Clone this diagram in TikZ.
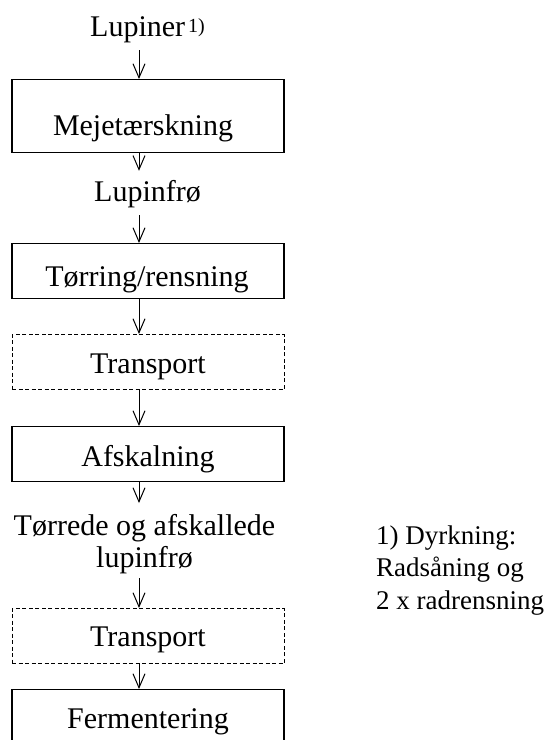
\documentclass[tikz,border=0pt]{standalone}
\usepackage{fontspec}
\setmainfont{Liberation Serif}
\usetikzlibrary{arrows.meta}
\begin{document}
\begin{tikzpicture}[x=1pt,y=-1pt,
  every node/.style={inner sep=0pt, font=\fontsize{30}{32}\selectfont},
  box/.style={draw, line width=1.1pt, minimum width=272pt, minimum height=55pt, anchor=north, text depth=0pt},
  dbox/.style={box, line width=1pt, dash pattern=on 4pt off 2.5pt},
  arr/.style={line width=1pt, -{Straight Barb[length=14pt,width=12pt]}}]
\useasboundingbox (0,0) rectangle (547,740);
\clip (0,0) rectangle (547,740);
\coordinate (ax) at (139,0);
% text labels
\node[anchor=base, text depth=14pt] (lup) at (147.5,36) {Lupiner\hspace{3pt}\raisebox{4pt}{\fontsize{20}{22}\selectfont 1)}};
\node[anchor=base, text height=30pt, text depth=14pt] (lf) at (147.5,201) {Lupinfrø};
\node[anchor=north, align=center] (tdl) at (144.5,503) {\rule{0pt}{32pt}Tørrede og afskallede\\lupinfrø\rule[-11pt]{0pt}{11pt}};
% boxes
\node[box, minimum height=73pt, text height=39pt] (mej) at (148,79) {Mejetærskning\hspace*{10pt}};
\node[box, text height=30pt] (tor) at (148,243) {Tørring/rensning\hspace*{2pt}};
\node[dbox, text height=22.4pt] (tr1) at (148,334) {Transport};
\node[box, text height=24.4pt] (afs) at (148,426) {Afskalning};
\node[dbox, text height=20.4pt] (tr2) at (148,608) {Transport};
\node[box, text height=23pt] (fer) at (148,689) {Fermentering};
% note
\node[anchor=north west, align=left, font=\fontsize{27}{32.5}\selectfont] (note) at (376,521) {\rule{0pt}{23pt}1) Dyrkning:\\Radsåning og\\2 x radrensning};
% connectors
\draw[arr] (lup.south -| ax) -- (mej.north -| ax);
\draw[arr] (mej.south -| ax) -- (lf.north -| ax);
\draw[arr] (lf.south -| ax) -- (tor.north -| ax);
\draw[arr] (tor.south -| ax) -- (tr1.north -| ax);
\draw[arr] (tr1.south -| ax) -- (afs.north -| ax);
\draw[arr] (afs.south -| ax) -- (tdl.north -| ax);
\draw[arr] (tdl.south -| ax) -- (tr2.north -| ax);
\draw[arr] (tr2.south -| ax) -- (fer.north -| ax);
\end{tikzpicture}
\end{document}
